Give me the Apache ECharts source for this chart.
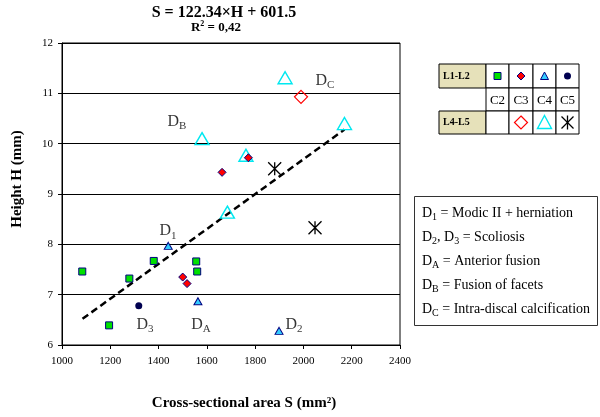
<!DOCTYPE html>
<html><head><meta charset="utf-8">
<script src="https://cdn.jsdelivr.net/npm/echarts@6/dist/echarts.min.js"></script>
<style>html,body{margin:0;padding:0;background:#fff}#c{width:600px;height:417px}</style>
</head><body><div id="c"></div>
<script>
// ---- data ----
var xTicks = [1000, 1200, 1400, 1600, 1800, 2000, 2200, 2400];
var yTicks = [6, 7, 8, 9, 10, 11, 12];
// L1-L2 groups (small filled markers)
var l12C2 = [[1084, 7.46], [1380, 7.67], [1279, 7.32], [1556, 7.66], [1560, 7.46], [1195, 6.39]];
var l12C3 = [[1663, 9.43], [1772, 9.72], [1500, 7.35], [1518, 7.22]];
var l12C4 = [[1440, 7.97], [1563, 6.87], [1899, 6.28]];
var l12C5 = [[1318, 6.78]];
// L4-L5 groups (large outline markers)
var l45C3 = [[1990, 10.93]];
var l45C4 = [[1924, 11.31], [2170, 10.40], [1580, 10.10], [1762, 9.77], [1685, 8.64]];
var l45C5 = [[1881, 9.50], [2048, 8.33]];
// trend line ends
var trendS = [1085, 2170];
var trendH = [6.52, 10.28];
// annotations
var annoS = [2089, 1476, 1439, 1344, 1576, 1961];
var annoH = [11.25, 10.44, 8.26, 6.40, 6.40, 6.40];
var annoSub = ['C', 'B', '1', '3', 'A', '2'];
// texts
var titleMain = 'S = 122.34\u00d7H + 601.5';
var titleR2 = '0,42';
var xTitle = 'Cross-sectional area S (mm\u00b2)';
var yTitle = 'Height H (mm)';
var notes = [['D', '1', ' = Modic II + herniation'], ['D', '2', ', D', '3', ' = Scoliosis'], ['D', 'A', ' = Anterior fusion'], ['D', 'B', ' = Fusion of facets'], ['D', 'C', ' = Intra-discal calcification']];
var tableCols = ['C2', 'C3', 'C4', 'C5'];
var tableRows = ['L1-L2', 'L4-L5'];

var SERIF = '"Liberation Serif","Times New Roman",serif';
var chart = echarts.init(document.getElementById('c'));

var NAVY = '#000080';
var starPath = 'path://M0,0L10,10M10,0L0,10M5,0L5,10';

// annotation series data
var annoData = annoS.map(function (s, i) { return { value: [s, annoH[i]], sub: annoSub[i] }; });
// notes rich text
function noteText(parts) {
  var out = '';
  for (var i = 0; i < parts.length; i++) out += (i % 2 === 0 ? '{m|' : '{s|') + parts[i] + '}';
  return out;
}

// legend table graphic
var cx = [439, 486, 509, 533, 556, 579];
var ry = [64, 88, 111, 134];
var g = [];
function rect(x, y, w, h, fill) {
  g.push({ type: 'rect', shape: { x: x, y: y, width: w, height: h }, style: { fill: fill || '#fff', stroke: '#000', lineWidth: 1 }, z: 100 });
}
rect(cx[0], ry[0], cx[1] - cx[0], ry[1] - ry[0], '#E6E1BA');
rect(cx[0], ry[2], cx[1] - cx[0], ry[3] - ry[2], '#E6E1BA');
for (var r = 0; r < 3; r++) for (var c = 1; c < 5; c++) rect(cx[c], ry[r], cx[c + 1] - cx[c], ry[r + 1] - ry[r]);
g.push({ type: 'text', z: 101, style: { text: tableRows[0], x: 443, y: (ry[0] + ry[1]) / 2, font: 'bold 10px ' + SERIF, fill: '#000', textVerticalAlign: 'middle', verticalAlign: 'middle' } });
g.push({ type: 'text', z: 101, style: { text: tableRows[1], x: 443, y: (ry[2] + ry[3]) / 2, font: 'bold 10px ' + SERIF, fill: '#000', textVerticalAlign: 'middle', verticalAlign: 'middle' } });
tableCols.forEach(function (t, i) {
  g.push({ type: 'text', z: 101, style: { text: t, x: (cx[i + 1] + cx[i + 2]) / 2, y: (ry[1] + ry[2]) / 2 + 1, font: '13px ' + SERIF, fill: '#000', textAlign: 'center', align: 'center', textVerticalAlign: 'middle', verticalAlign: 'middle' } });
});
var m1 = (ry[0] + ry[1]) / 2, m3 = (ry[2] + ry[3]) / 2;
function mid(c) { return (cx[c] + cx[c + 1]) / 2; }
g.push({ type: 'rect', z: 102, shape: { x: mid(1) - 3.5, y: m1 - 3.5, width: 7, height: 7 }, style: { fill: '#00e000', stroke: NAVY, lineWidth: 1 } });
g.push({ type: 'polygon', z: 102, shape: { points: [[mid(2), m1 - 4], [mid(2) + 4, m1], [mid(2), m1 + 4], [mid(2) - 4, m1]] }, style: { fill: '#ff0000', stroke: NAVY, lineWidth: 1 } });
g.push({ type: 'polygon', z: 102, shape: { points: [[mid(3), m1 - 4], [mid(3) + 4, m1 + 3.5], [mid(3) - 4, m1 + 3.5]] }, style: { fill: '#33ccff', stroke: NAVY, lineWidth: 1 } });
g.push({ type: 'circle', z: 102, shape: { cx: mid(4), cy: m1, r: 3.5 }, style: { fill: '#000050' } });
g.push({ type: 'polygon', z: 102, shape: { points: [[mid(2), m3 - 6.5], [mid(2) + 6.5, m3], [mid(2), m3 + 6.5], [mid(2) - 6.5, m3]] }, style: { fill: 'none', stroke: '#ff0000', lineWidth: 1.2 } });
g.push({ type: 'polygon', z: 102, shape: { points: [[mid(3), m3 - 7], [mid(3) + 7, m3 + 6], [mid(3) - 7, m3 + 6]] }, style: { fill: 'none', stroke: '#00e8f0', lineWidth: 1.4 } });
g.push({ type: 'polyline', z: 102, shape: { points: [[mid(4) - 6, m3 - 6], [mid(4) + 6, m3 + 6]] }, style: { fill: 'none', stroke: '#000', lineWidth: 1.3 } });
g.push({ type: 'polyline', z: 102, shape: { points: [[mid(4) + 6, m3 - 6], [mid(4) - 6, m3 + 6]] }, style: { fill: 'none', stroke: '#000', lineWidth: 1.3 } });
g.push({ type: 'polyline', z: 102, shape: { points: [[mid(4), m3 - 7], [mid(4), m3 + 7]] }, style: { fill: 'none', stroke: '#000', lineWidth: 1.3 } });

// notes box
g.push({ type: 'rect', z: 100, shape: { x: 414.5, y: 196.5, width: 183, height: 129 }, style: { fill: '#fff', stroke: '#333', lineWidth: 1 } });
notes.forEach(function (p, i) {
  g.push({ type: 'text', z: 101, style: { text: noteText(p), x: 422, y: 213 + i * 24, textVerticalAlign: 'middle', verticalAlign: 'middle',
    rich: { m: { font: '14px ' + SERIF, fill: '#000', lineHeight: 18 }, s: { font: '10px ' + SERIF, fill: '#000', lineHeight: 10, verticalAlign: 'bottom' } } } });
});

// titles
g.push({ type: 'text', style: { text: titleMain, x: 224, y: 13, font: 'bold 16px ' + SERIF, fill: '#000', textAlign: 'center', align: 'center', textVerticalAlign: 'middle', verticalAlign: 'middle' } });
g.push({ type: 'text', style: { text: '{r|R}{p|2}{r| = ' + titleR2 + '}', x: 216, y: 28, textAlign: 'center', align: 'center', textVerticalAlign: 'middle', verticalAlign: 'middle',
  rich: { r: { font: 'bold 13px ' + SERIF, fill: '#000', lineHeight: 16 }, p: { font: 'bold 8px ' + SERIF, fill: '#000', lineHeight: 8, verticalAlign: 'top' } } } });
g.push({ type: 'text', style: { text: xTitle, x: 244, y: 403, font: 'bold 15px ' + SERIF, fill: '#000', textAlign: 'center', align: 'center', textVerticalAlign: 'middle', verticalAlign: 'middle' } });
g.push({ type: 'text', rotation: Math.PI / 2, x: 17, y: 179, style: { text: yTitle, x: 0, y: 0, font: 'bold 15px ' + SERIF, fill: '#000', textAlign: 'center', align: 'center', textVerticalAlign: 'middle', verticalAlign: 'middle' } });

var option = {
  animation: false,
  backgroundColor: '#fff',
  grid: { left: 62, right: 200, top: 43, bottom: 72, show: true, borderColor: '#000', borderWidth: 1 },
  xAxis: {
    type: 'value', min: xTicks[0], max: xTicks[xTicks.length - 1], interval: 200,
    axisLine: { show: true, onZero: false, lineStyle: { color: '#000', width: 1 } },
    axisTick: { show: true, length: 4, inside: false, lineStyle: { color: '#000' } },
    axisLabel: { color: '#000', fontFamily: SERIF, fontSize: 11, margin: 11, formatter: function (v) { return String(v); } },
    splitLine: { show: false }
  },
  yAxis: {
    type: 'value', min: yTicks[0], max: yTicks[yTicks.length - 1], interval: 1,
    axisLine: { show: true, onZero: false, lineStyle: { color: '#000', width: 1 } },
    axisTick: { show: true, length: 4, lineStyle: { color: '#000' } },
    axisLabel: { color: '#000', fontFamily: SERIF, fontSize: 11, margin: 9, formatter: function (v) { return String(v); } },
    splitLine: { show: true, lineStyle: { color: '#000', width: 1 } }
  },
  series: [
    { type: 'line', data: [[trendS[0], trendH[0]], [trendS[1], trendH[1]]], symbol: 'none', lineStyle: { color: '#000', width: 2.5, type: [7, 4] }, z: 1 },
    { type: 'scatter', data: l12C2, symbol: 'rect', symbolSize: 7, itemStyle: { color: '#00e000', borderColor: NAVY, borderWidth: 1, opacity: 1 }, z: 3 },
    { type: 'scatter', data: l12C3, symbol: 'diamond', symbolSize: 8, itemStyle: { color: '#ff0000', borderColor: NAVY, borderWidth: 1, opacity: 1 }, z: 4 },
    { type: 'scatter', data: l12C4, symbol: 'triangle', symbolSize: [8, 7], itemStyle: { color: '#33ccff', borderColor: NAVY, borderWidth: 1, opacity: 1 }, z: 3 },
    { type: 'scatter', data: l12C5, symbol: 'circle', symbolSize: 7, itemStyle: { color: '#000050', opacity: 1 }, z: 3 },
    { type: 'scatter', data: l45C3, symbol: 'diamond', symbolSize: 13, itemStyle: { color: 'rgba(0,0,0,0)', borderColor: '#ff0000', borderWidth: 1.2, opacity: 1 }, z: 3 },
    { type: 'scatter', data: l45C4, symbol: 'triangle', symbolSize: [14, 12], itemStyle: { color: 'rgba(0,0,0,0)', borderColor: '#00e8f0', borderWidth: 1.4, opacity: 1 }, z: 2 },
    { type: 'scatter', data: l45C5, symbol: starPath, symbolSize: 13, itemStyle: { color: 'rgba(0,0,0,0)', borderColor: '#000', borderWidth: 1.3, opacity: 1 }, z: 3 },
    { type: 'scatter', data: annoData, symbolSize: 0, silent: true, z: 5,
      label: { show: true, position: 'inside', formatter: function (p) { return '{m|D}{s|' + p.data.sub + '}'; },
        rich: { m: { fontFamily: SERIF, fontSize: 16, color: '#000', lineHeight: 20 }, s: { fontFamily: SERIF, fontSize: 11, color: '#000', lineHeight: 11, verticalAlign: 'bottom' } } } }
  ],
  graphic: g
};
chart.setOption(option);
</script></body></html>
